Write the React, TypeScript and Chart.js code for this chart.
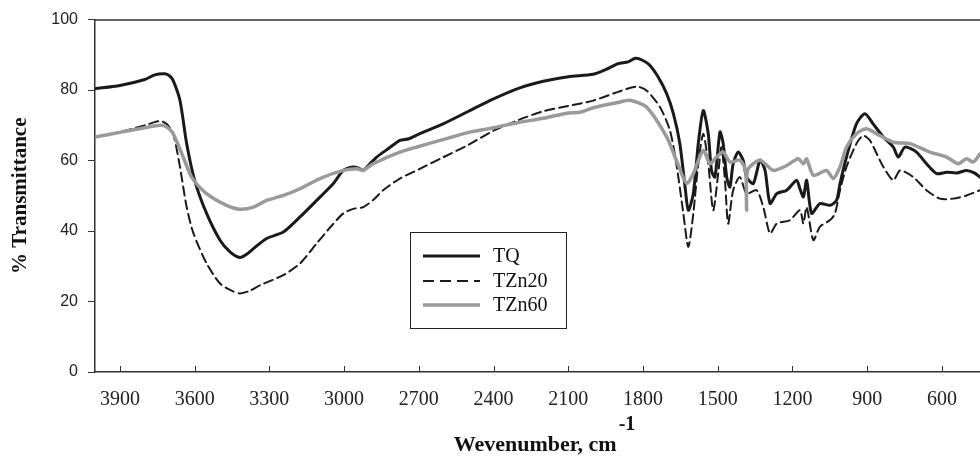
import React, { useEffect, useRef } from "react";
import { Chart, registerables } from "chart.js";

Chart.register(...registerables);

// ---- data (wavenumber in cm-1, % transmittance) ----
const tqWave = [4000, 3900, 3800, 3760, 3720, 3700, 3686, 3659, 3632, 3600, 3552, 3498, 3458, 3418, 3390, 3364, 3311, 3244, 3177, 3110, 3043, 3003, 2963, 2940, 2923, 2900, 2869, 2820, 2776, 2740, 2700, 2600, 2500, 2400, 2300, 2200, 2100, 2000, 1950, 1900, 1860, 1830, 1800, 1772, 1739, 1705, 1678, 1652, 1631, 1618, 1598, 1578, 1558, 1538, 1525, 1511, 1491, 1478, 1464, 1451, 1438, 1418, 1398, 1384, 1357, 1330, 1310, 1290, 1263, 1223, 1183, 1170, 1156, 1143, 1123, 1090, 1049, 1023, 1009, 983, 943, 909, 876, 835, 795, 775, 748, 702, 662, 621, 581, 540, 501, 470, 447];
const tqT = [80.4, 81.3, 83.0, 84.3, 84.6, 84.0, 82.7, 77.1, 64.8, 54.4, 45.0, 37.4, 34.1, 32.5, 33.5, 35.0, 37.9, 39.7, 44.0, 48.7, 53.5, 57.2, 58.2, 57.8, 57.2, 58.8, 61.0, 63.5, 65.7, 66.2, 67.5, 70.5, 74.0, 77.5, 80.5, 82.5, 83.8, 84.5, 85.8, 87.5, 88.0, 89.0, 88.4, 87.0, 83.7, 79.0, 73.3, 64.8, 52.5, 45.9, 50.6, 64.8, 74.2, 67.6, 57.2, 55.3, 68.1, 64.8, 55.3, 52.5, 59.1, 62.4, 60.1, 55.3, 53.5, 60.1, 57.2, 47.8, 50.6, 51.6, 54.4, 52.0, 49.7, 54.4, 45.0, 47.8, 47.3, 48.7, 53.5, 61.0, 70.4, 73.3, 70.4, 66.7, 63.8, 61.0, 63.8, 62.4, 59.1, 56.3, 56.7, 56.5, 57.2, 56.5, 55.3];

const tzn20Wave = [4000, 3900, 3800, 3739, 3712, 3686, 3659, 3632, 3605, 3552, 3498, 3450, 3418, 3380, 3338, 3244, 3177, 3110, 3050, 3003, 2963, 2923, 2880, 2843, 2776, 2700, 2600, 2500, 2400, 2300, 2200, 2100, 2000, 1900, 1826, 1786, 1732, 1692, 1666, 1638, 1618, 1598, 1578, 1558, 1538, 1518, 1498, 1485, 1471, 1458, 1438, 1411, 1384, 1344, 1317, 1290, 1263, 1210, 1170, 1156, 1143, 1116, 1090, 1049, 1029, 1009, 983, 943, 916, 889, 862, 835, 795, 768, 715, 662, 608, 555, 501, 447];
const tzn20T = [66.7, 68.1, 70.0, 71.2, 70.4, 67.6, 58.2, 46.8, 39.4, 30.8, 25.1, 23.0, 22.3, 23.0, 24.6, 27.5, 30.8, 36.5, 41.5, 45.0, 46.3, 46.8, 49.0, 51.6, 54.9, 57.5, 61.0, 64.5, 68.5, 71.5, 74.0, 75.5, 77.0, 79.5, 81.0, 79.9, 75.2, 68.6, 59.1, 45.0, 35.5, 45.0, 59.1, 67.6, 59.1, 45.9, 56.3, 63.8, 54.4, 42.1, 51.6, 55.3, 50.6, 51.6, 46.8, 39.3, 42.1, 43.1, 45.9, 42.1, 46.8, 37.4, 41.2, 43.1, 45.0, 51.6, 58.2, 64.8, 67.1, 65.7, 62.0, 58.2, 54.4, 57.2, 55.3, 51.6, 49.2, 49.2, 50.1, 51.6];

const tzn60Wave = [4000, 3900, 3800, 3739, 3712, 3686, 3646, 3612, 3552, 3472, 3418, 3364, 3311, 3244, 3177, 3097, 3003, 2949, 2923, 2883, 2776, 2700, 2600, 2500, 2400, 2300, 2200, 2100, 2053, 2000, 1900, 1852, 1786, 1705, 1666, 1625, 1598, 1558, 1531, 1505, 1478, 1451, 1411, 1388, 1384, 1380, 1330, 1277, 1223, 1177, 1156, 1143, 1116, 1063, 1036, 1009, 983, 943, 903, 849, 795, 728, 648, 581, 534, 501, 474, 447];
const tzn60T = [66.7, 68.0, 69.3, 70.0, 69.5, 67.6, 61.0, 55.3, 50.6, 47.3, 46.2, 46.8, 48.7, 50.1, 52.0, 54.9, 57.2, 57.7, 57.2, 59.1, 62.4, 64.0, 66.0, 68.0, 69.3, 70.8, 72.0, 73.5, 73.7, 75.0, 76.5, 77.1, 75.2, 66.7, 60.1, 53.5, 56.3, 62.9, 59.1, 61.0, 62.4, 59.6, 60.1, 57.2, 45.9, 57.2, 60.1, 57.2, 58.6, 60.5, 59.1, 60.5, 55.8, 57.2, 54.9, 58.2, 63.8, 67.6, 69.0, 67.1, 65.2, 64.8, 62.4, 61.0, 59.1, 60.5, 59.6, 61.9];

const seriesLabels = ["TQ", "TZn20", "TZn60"];
const xTicks = [3900, 3600, 3300, 3000, 2700, 2400, 2100, 1800, 1500, 1200, 900, 600];
const xTitle = "Wevenumber, cm";
const xTitleSup = "-1";
const yTitle = "% Transmittance";

const SERIF = "'Liberation Serif', 'Times New Roman', serif";
const SANS = "'Liberation Sans', Arial, sans-serif";

export default function App() {
  const ref = useRef<HTMLCanvasElement>(null);

  useEffect(() => {
    if (!ref.current) return;
    const toPts = (w: number[], t: number[]) => w.map((x, i) => ({ x, y: t[i] }));

    const styles = [
      { color: "#1a1a1a", width: 3, dash: [] as number[] },
      { color: "#1a1a1a", width: 2, dash: [9, 5] },
      { color: "#9a9a9a", width: 3.5, dash: [] as number[] },
    ];

    const deco = {
      id: "deco",
      afterDraw(chart: any) {
        const { ctx, chartArea: a, scales } = chart;
        const xs = scales.x;
        ctx.save();
        // top frame line
        ctx.strokeStyle = "#333";
        ctx.lineWidth = 1.5;
        ctx.beginPath();
        ctx.moveTo(a.left, a.top + 0.5);
        ctx.lineTo(a.right, a.top + 0.5);
        ctx.stroke();
        // inward x tick marks
        ctx.lineWidth = 1;
        xTicks.forEach((v) => {
          const p = Math.round(xs.getPixelForValue(v)) + 0.5;
          ctx.beginPath();
          ctx.moveTo(p, a.bottom);
          ctx.lineTo(p, a.bottom - 6);
          ctx.stroke();
        });
        // legend box
        const bx = 410.5, by = 232.5, bw = 156, bh = 96;
        ctx.fillStyle = "#fff";
        ctx.fillRect(bx, by, bw, bh);
        ctx.strokeStyle = "#222";
        ctx.lineWidth = 1;
        ctx.strokeRect(bx, by, bw, bh);
        const rows = [256, 281, 305];
        seriesLabels.forEach((lab, i) => {
          const s = styles[i];
          ctx.strokeStyle = s.color;
          ctx.lineWidth = s.width;
          ctx.setLineDash(i === 1 ? [11, 6] : []);
          ctx.beginPath();
          ctx.moveTo(423, rows[i]);
          ctx.lineTo(480, rows[i]);
          ctx.stroke();
          ctx.setLineDash([]);
          ctx.fillStyle = "#111";
          ctx.font = `20px ${SERIF}`;
          ctx.textBaseline = "middle";
          ctx.textAlign = "left";
          ctx.fillText(lab, 493, rows[i] + 1);
        });
        // x title with superscript
        ctx.fillStyle = "#111";
        ctx.textBaseline = "alphabetic";
        ctx.font = `bold 22px ${SERIF}`;
        const w1 = ctx.measureText(xTitle).width;
        ctx.font = `bold 20px ${SERIF}`;
        const w2 = ctx.measureText(xTitleSup).width;
        const x0 = (a.left + a.right) / 2 + 6 - (w1 + w2) / 2;
        ctx.font = `bold 22px ${SERIF}`;
        ctx.fillText(xTitle, x0, 451);
        ctx.font = `bold 20px ${SERIF}`;
        ctx.fillText(xTitleSup, x0 + w1 + 2, 430);
        ctx.restore();
      },
    };

    const chart = new Chart(ref.current, {
      type: "line",
      data: {
        datasets: [
          { label: seriesLabels[0], data: toPts(tqWave, tqT), borderColor: styles[0].color, borderWidth: styles[0].width, order: 1 },
          { label: seriesLabels[1], data: toPts(tzn20Wave, tzn20T), borderColor: styles[1].color, borderWidth: styles[1].width, borderDash: styles[1].dash, order: 2 },
          { label: seriesLabels[2], data: toPts(tzn60Wave, tzn60T), borderColor: styles[2].color, borderWidth: styles[2].width, order: 0 },
        ],
      },
      options: {
        animation: false,
        responsive: true,
        maintainAspectRatio: false,
        parsing: false as any,
        elements: { point: { radius: 0 }, line: { tension: 0.25, borderCapStyle: "round", borderJoinStyle: "round" } },
        layout: { padding: { top: 19, right: 0, left: 0, bottom: 0 } },
        plugins: { legend: { display: false }, tooltip: { enabled: false } },
        scales: {
          x: {
            type: "linear",
            reverse: true,
            min: 447,
            max: 4000,
            afterBuildTicks: (s: any) => {
              s.ticks = xTicks.map((v) => ({ value: v }));
            },
            afterFit: (s: any) => {
              s.height = 86;
            },
            grid: { display: false, drawTicks: false },
            border: { display: true, color: "#333", width: 1.5 },
            ticks: {
              font: { family: SERIF, size: 20 },
              color: "#222",
              padding: 16,
              maxRotation: 0,
              autoSkip: false,
              callback: (v: any) => String(v),
            },
          },
          y: {
            min: 0,
            max: 100,
            afterFit: (s: any) => {
              s.width = 95;
            },
            grid: { drawOnChartArea: false, drawTicks: true, tickLength: 7, color: "#333" },
            border: { display: true, color: "#333", width: 1.5 },
            ticks: {
              stepSize: 20,
              font: { family: SANS, size: 16 },
              color: "#222",
              padding: 10,
              callback: (v: any) => String(v),
            },
            title: {
              display: true,
              text: yTitle,
              font: { family: SERIF, size: 21, weight: "bold" },
              color: "#111",
              padding: { top: 8, bottom: 0 },
            },
          },
        },
      },
      plugins: [deco],
    } as any);

    return () => chart.destroy();
  }, []);

  return (
    <div style={{ position: "absolute", left: 0, top: 0, width: 980, height: 458, background: "#fff" }}>
      <canvas ref={ref} />
    </div>
  );
}
